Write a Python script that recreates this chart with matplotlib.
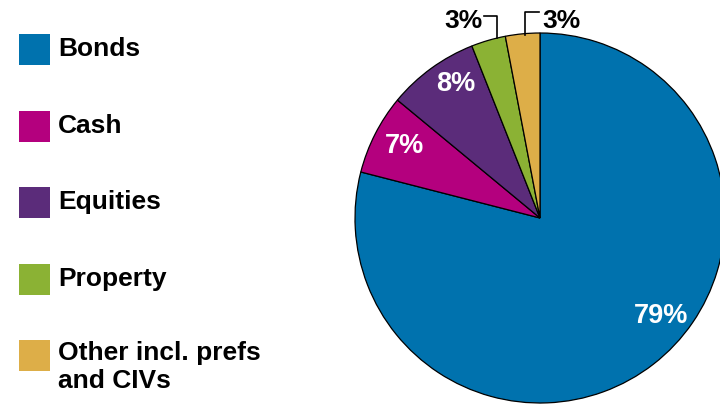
import matplotlib.pyplot as plt
from matplotlib.patches import Rectangle

# asset allocation
categories = ['Bonds', 'Cash', 'Equities', 'Property', 'Other incl. prefs\nand CIVs']
shares = [79, 7, 8, 3, 3]
colors = ['#0072AE', '#B4007E', '#5B2C7A', '#8BB234', '#DDAE48']

plt.rcParams['font.family'] = ['Liberation Sans', 'DejaVu Sans']
plt.rcParams['font.weight'] = 'bold'

W, H = 720, 404
fig = plt.figure(figsize=(W / 100, H / 100), dpi=100)
ax = fig.add_axes([0, 0, 1, 1])

cx, cy, r = 540, H - 218, 185
wedges, _ = ax.pie(shares, colors=colors, startangle=90, counterclock=False,
                   center=(cx, cy), radius=r, frame=True,
                   wedgeprops=dict(edgecolor='black', linewidth=0.9))
ax.set_xlim(0, W)
ax.set_ylim(0, H)
ax.set_aspect('equal')
ax.axis('off')

# labels inside the big slices (pixel positions, y from top)
inside = {0: (661, 316), 1: (404, 146), 2: (456, 84)}
for i, (x, y) in inside.items():
    ax.text(x, H - y, f'{shares[i]}%', color='white', fontsize=19.5,
            ha='center', va='center')

# small slices get outside labels with bracket leaders
ax.text(463, H - 21, f'{shares[3]}%', fontsize=19, ha='center', va='center')
ax.plot([484, 497, 497], [H - 16, H - 16, H - 38], color='black', lw=1.2)
ax.text(561, H - 21, f'{shares[4]}%', fontsize=19, ha='center', va='center')
ax.plot([525, 525, 539], [H - 35, H - 12, H - 12], color='black', lw=1.2)

# legend column
for i, (name, c) in enumerate(zip(categories, colors)):
    top = 34 + i * 76.5
    ax.add_patch(Rectangle((19, H - top - 31), 31, 31, facecolor=c,
                           edgecolor='none'))
    if '\n' in name:
        ax.text(58, H - top - 1, name, fontsize=19, ha='left', va='top',
                linespacing=1.2)
    else:
        ax.text(58, H - top - 15.5, name, fontsize=19, ha='left',
                va='center')

fig.savefig('out.png', dpi=100)
